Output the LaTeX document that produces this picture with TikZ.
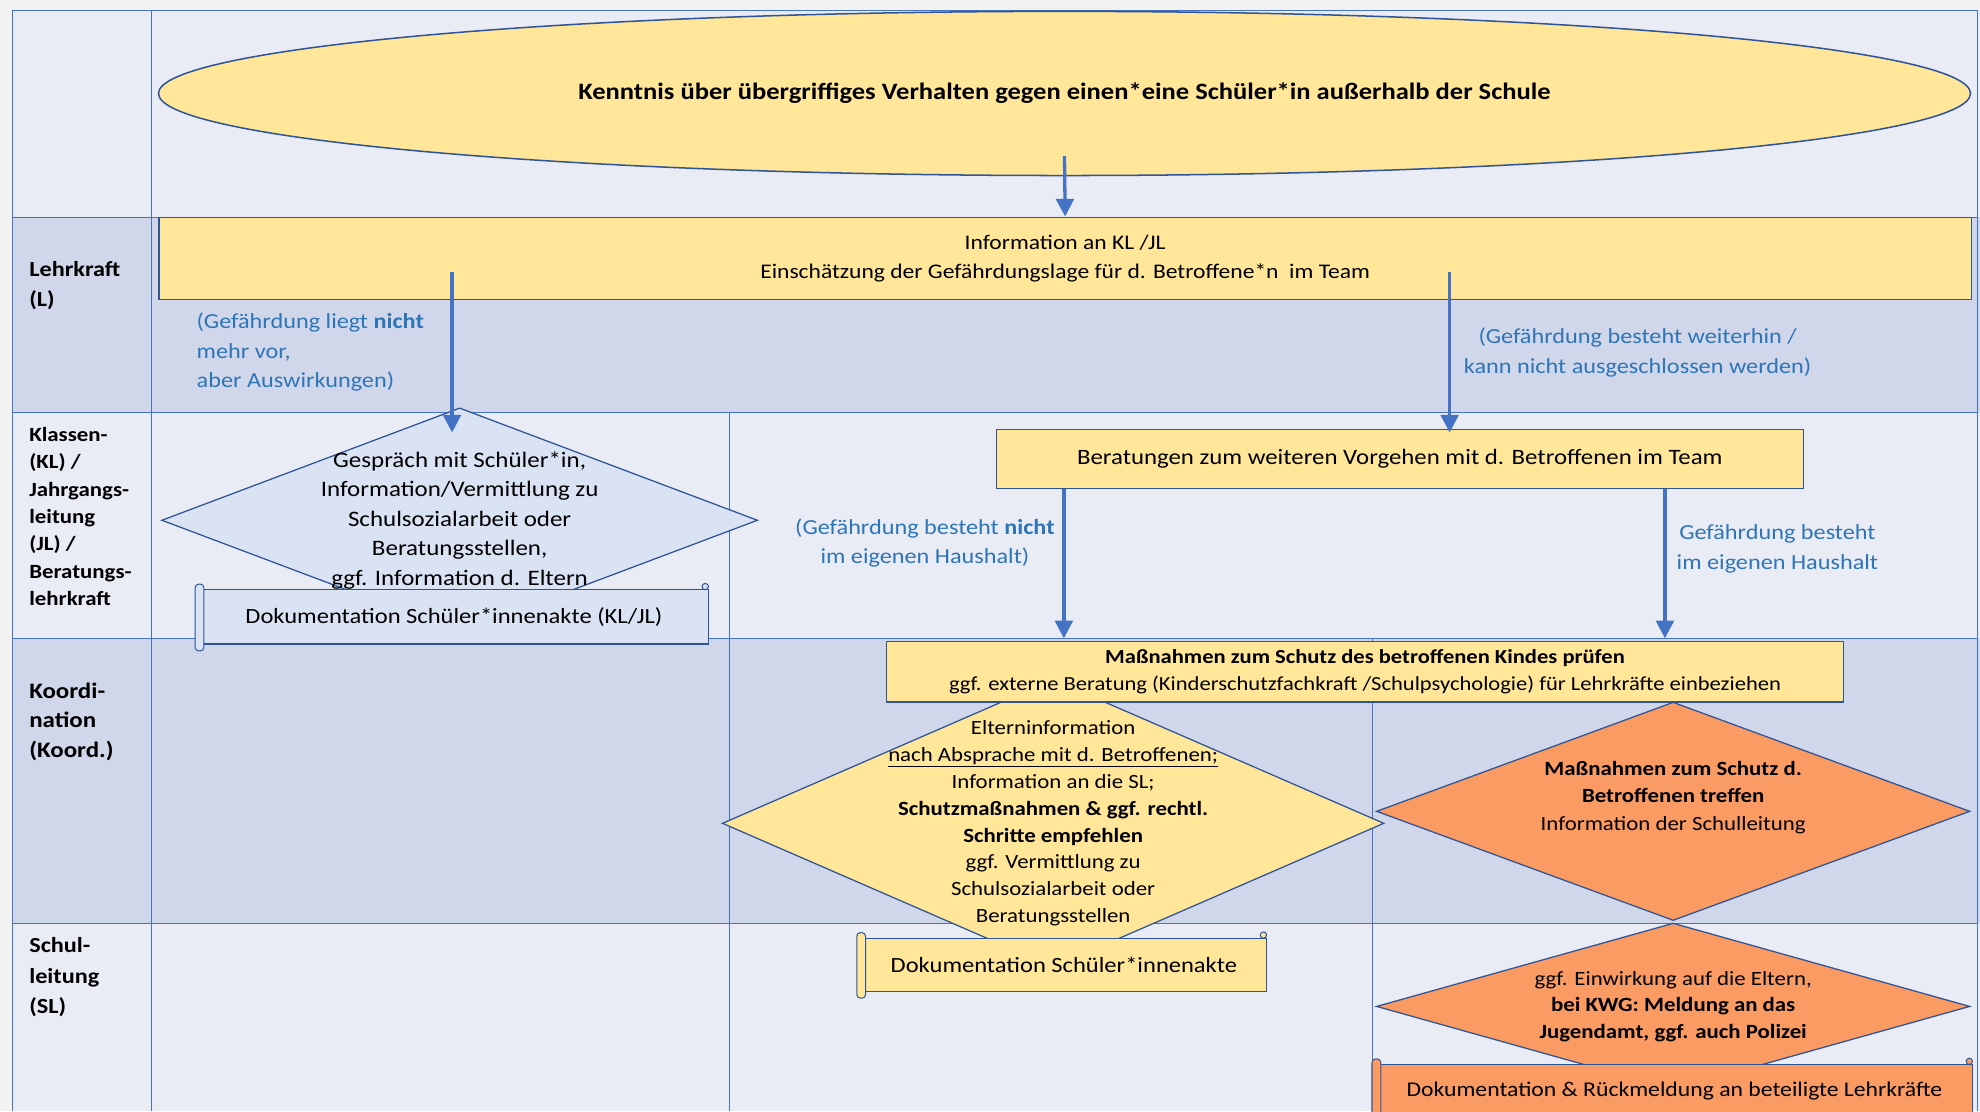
\documentclass[tikz,border=0pt]{standalone}
\usepackage{fontspec}
\setmainfont{Carlito}[FakeStretch=1.13]
\usepackage{tikz}
\usetikzlibrary{positioning,arrows.meta,shapes.geometric,calc}
\definecolor{rowlight}{HTML}{E9ECF5}
\definecolor{rowdark}{HTML}{D0D7EA}
\definecolor{gridblue}{HTML}{4472C4}
\definecolor{edgeblue}{HTML}{2F5597}
\definecolor{paleyellow}{HTML}{FFE699}
\definecolor{paleblue}{HTML}{DAE3F3}
\definecolor{softorange}{HTML}{FA9B64}
\definecolor{notetext}{HTML}{2E75B6}
\newcommand{\fs}[2]{\fontsize{#1}{#2}\selectfont}
\newcommand{\rollends}[2]{%
  \draw[edgeblue, line width=0.8pt, fill=#2, rounded corners=3pt]
    ([xshift=-3pt,yshift=4pt]#1.north west) rectangle ([xshift=4pt,yshift=-5pt]#1.south west);
  \draw[edgeblue, line width=0.8pt, fill=#2] ([xshift=-3pt,yshift=2pt]#1.north east) circle (2.5pt);}

\begin{document}
\begin{tikzpicture}[x=1pt, y=-1pt, >={Triangle[length=14pt, width=14pt]},
  grid/.style={gridblue, line width=0.8pt},
  box/.style={draw=edgeblue, line width=1pt, fill=paleyellow, align=center, inner sep=0pt},
  dia/.style={diamond, draw=edgeblue, line width=1pt, inner sep=0pt},
  scroll/.style={draw=edgeblue, line width=1pt, align=center, inner sep=0pt},
  flow/.style={->, gridblue, line width=2.6pt},
  lbl/.style={text=notetext, font=\fs{17}{23.5}, align=center, inner sep=0pt},
  lane/.style={font=\bfseries\fs{17}{24}, align=left, anchor=west, inner sep=0pt}]
  \clip (0,0) rectangle (1568,880);
  \fill[black!5] (0,0) rectangle (1568,880);
  \fill[rowlight] (10,8) rectangle (1568,172);
  \fill[rowdark] (10,172) rectangle (1568,327);
  \fill[rowlight] (10,327) rectangle (1568,506);
  \fill[rowdark] (10,506) rectangle (1568,731);
  \fill[rowlight] (10,731) rectangle (1568,880);
  \foreach \y in {8,172,327,506,731} \draw[grid] (10,\y) -- (1566,\y);
  \foreach \x in {10,120,1566} \draw[grid] (\x,8) -- (\x,880);
  \draw[grid] (578,327) -- (578,880);
  \draw[grid] (1087,506) -- (1087,880);

  \node[lane] (laneL) at (23,226) {Lehrkraft\\(L)};
  \node[lane, font=\bfseries\fs{16}{21.6}] (laneKL) at (23,409) {Klassen-\\(KL) /\\Jahrgangs-\\leitung\\(JL) /\\Beratungs-\\lehrkraft};
  \node[lane, font=\bfseries\fs{17.5}{23.5}] (laneKoord) at (23,571.5) {Koordi-\\nation\\(Koord.)};
  \node[lane] (laneSL) at (23,774) {Schul-\\leitung\\(SL)};

  \node[ellipse, draw=edgeblue, line width=1.2pt, fill=paleyellow, minimum width=1435, minimum height=130,
        font=\bfseries\fs{18.6}{22}] (kenntnis) at (843,74)
        {Kenntnis über übergriffiges Verhalten gegen einen*eine Schüler*in außerhalb der Schule};
  \node[box, minimum width=1435, minimum height=65, font=\fs{16.5}{23}] (info) at (843.5,204.5)
        {Information an KL /JL\\Einschätzung der Gefährdungslage für d. Betroffene*n \ im Team};
  \node[dia, fill=paleblue, minimum width=472, minimum height=178,
        label={[font=\fs{17.5}{23.3}, align=center]center:{Gespräch mit Schüler*in,\\Information/Vermittlung zu\\Schulsozialarbeit oder\\Beratungsstellen,\\ggf. Information d. Eltern}}]
        (gespraech) at (364,412) {};
  \node[scroll, fill=paleblue, minimum width=403, minimum height=43, font=\fs{17.2}{22}] (doku1) at (359.5,488.5)
        {Dokumentation Schüler*innenakte (KL/JL)};
  \rollends{doku1}{paleblue}
  \node[box, minimum width=639, minimum height=47, font=\fs{17.4}{22}] (beratung) at (1108.5,363.5)
        {Beratungen zum weiteren Vorgehen mit d. Betroffenen im Team};

  \node[dia, fill=paleyellow, minimum width=524, minimum height=228,
        label={[font=\fs{16}{21.3}, align=center]center:{Elterninformation\\\underline{nach Absprache mit d. Betroffenen;}\\Information an die SL;\\\textbf{Schutzmaßnahmen \& ggf. rechtl.}\\\textbf{Schritte empfehlen}\\ggf. Vermittlung zu\\Schulsozialarbeit oder\\Beratungsstellen}}]
        (eltern) at (834,652) {};
  \node[dia, fill=softorange, minimum width=470, minimum height=173,
        label={[font=\fs{16}{22}, align=center, yshift=11pt]center:{\textbf{Maßnahmen zum Schutz d.}\\\textbf{Betroffenen treffen}\\Information der Schulleitung}}]
        (schutz) at (1325,642.5) {};
  \node[dia, fill=softorange, minimum width=470, minimum height=132,
        label={[font=\fs{16}{21}, align=center]center:{ggf. Einwirkung auf die Eltern,\\\textbf{bei KWG: Meldung an das}\\\textbf{Jugendamt, ggf. auch Polizei}}}]
        (einwirkung) at (1325,797) {};
  \node[box, minimum width=758, minimum height=48, font=\fs{15.8}{21}] (massnahmen) at (1081,532)
        {\textbf{Maßnahmen zum Schutz des betroffenen Kindes prüfen}\\ggf. externe Beratung (Kinderschutzfachkraft /Schulpsychologie) für Lehrkräfte einbeziehen};
  \node[scroll, fill=paleyellow, minimum width=321, minimum height=42, font=\fs{17.2}{22}] (doku2) at (842.5,764)
        {Dokumentation Schüler*innenakte};
  \rollends{doku2}{paleyellow}
  \node[scroll, fill=softorange, minimum width=472, minimum height=42, font=\fs{16.6}{22}] (doku3) at (1326,864)
        {Dokumentation \& Rückmeldung an beteiligte Lehrkräfte};
  \rollends{doku3}{softorange}

  \draw[flow] ($(kenntnis.south)+(0,-16)$) -- (info.north);
  \draw[flow] ($(info.south -| gespraech.north)+(-6,-22)$) -- node[lbl, left=21pt, align=left]
        {(Gefährdung liegt \textbf{nicht}\\mehr vor,\\aber Auswirkungen)} ($(gespraech.north)+(-6,20)$);
  \draw[flow] ($(info.south -| beratung.north)+(39.5,-22)$) -- node[lbl, right=10pt]
        {(Gefährdung besteht weiterhin /\\kann nicht ausgeschlossen werden)} ($(beratung.north)+(39.5,3)$);
  \draw[flow] ($(beratung.south west)+(54,0)$) -- node[lbl, left=6pt, pos=0.36]
        {(Gefährdung besteht \textbf{nicht}\\im eigenen Haushalt)} ($(beratung.south west |- massnahmen.north)+(54,-2)$);
  \draw[flow] ($(beratung.south east)+(-110,0)$) -- node[lbl, right=8pt, pos=0.4]
        {Gefährdung besteht\\im eigenen Haushalt} ($(beratung.south east |- massnahmen.north)+(-110,-2)$);
\end{tikzpicture}
\end{document}
